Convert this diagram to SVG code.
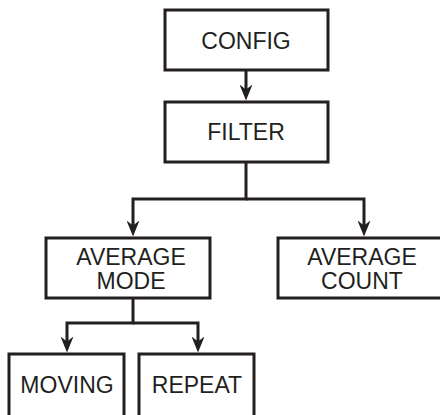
<svg xmlns="http://www.w3.org/2000/svg" width="440" height="415" viewBox="0 0 440 415">
<style>
.box{fill:#fff;stroke:#231f20;stroke-width:3}
.lbl{font-family:"Liberation Sans",Arial,sans-serif;font-size:23px;fill:#231f20;text-anchor:middle}
.con{fill:none;stroke:#231f20;stroke-width:3;marker-end:url(#ah)}
</style>
<defs>
<marker id="ah" viewBox="0 0 16 13" refX="10" refY="6.5" markerWidth="16" markerHeight="13" markerUnits="userSpaceOnUse" orient="auto">
<path d="M0,0 L16,6.5 L0,13 L5,6.5 Z" fill="#231f20"/>
</marker>
</defs>
<rect width="440" height="415" fill="#fff"/>
<g id="connectors">
<path class="con" d="M246,70 V94.5"/>
<path class="con" d="M246,162 V199 H133 V230.5"/>
<path class="con" d="M246,199 H364 V230.5"/>
<path class="con" d="M133,298 V323 H67 V346.5"/>
<path class="con" d="M133,323 H198 V346.5"/>
</g>
<g id="config">
<rect class="box" x="165" y="10" width="163" height="60"/>
<text class="lbl" x="246" y="49">CONFIG</text>
</g>
<g id="filter">
<rect class="box" x="165" y="102" width="163" height="60"/>
<text class="lbl" x="246" y="140">FILTER</text>
</g>
<g id="average-mode">
<rect class="box" x="46" y="238" width="164" height="60"/>
<text class="lbl" x="131" y="265">AVERAGE</text>
<text class="lbl" x="131" y="289">MODE</text>
</g>
<g id="average-count">
<rect class="box" x="278" y="238" width="170" height="60"/>
<text class="lbl" x="362" y="265">AVERAGE</text>
<text class="lbl" x="362" y="289">COUNT</text>
</g>
<g id="moving">
<rect class="box" x="9" y="354" width="115" height="70"/>
<text class="lbl" x="67" y="393">MOVING</text>
</g>
<g id="repeat">
<rect class="box" x="139" y="354" width="115" height="70"/>
<text class="lbl" x="197" y="393">REPEAT</text>
</g>
</svg>
